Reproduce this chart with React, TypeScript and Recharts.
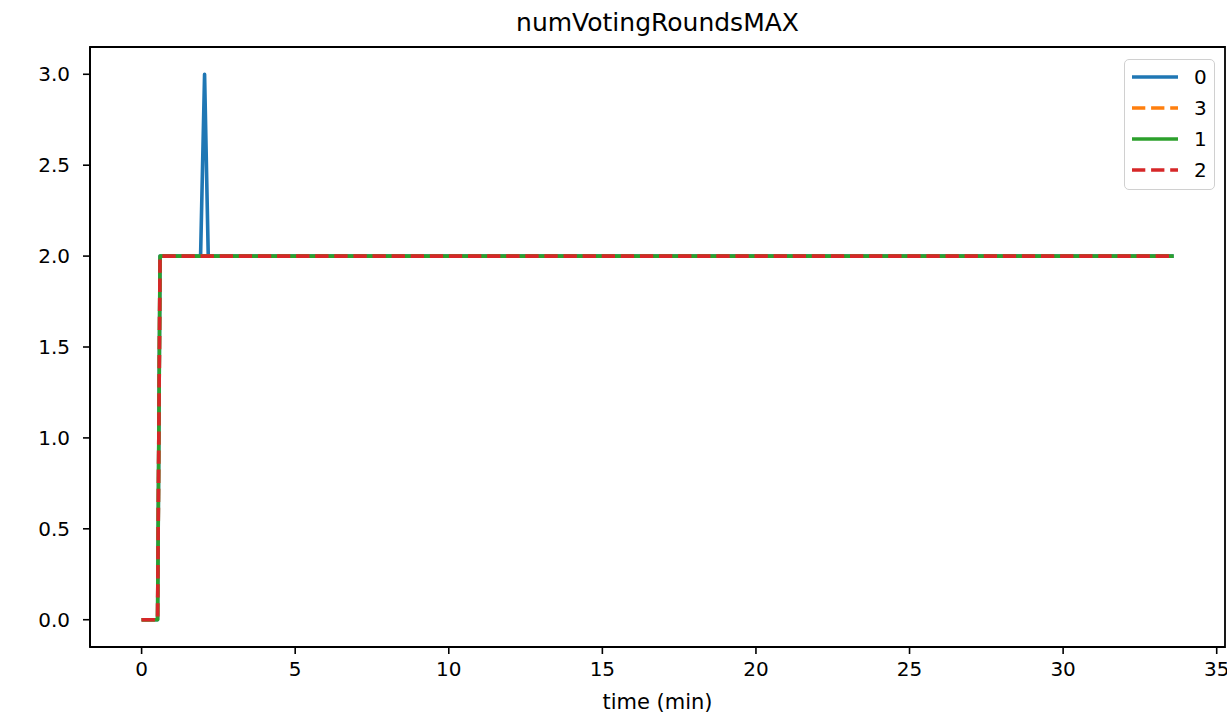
import { Legend, Line, LineChart, ReferenceArea, XAxis, YAxis } from "recharts";

// time (min) at which each sample was taken
const times: number[] = [0, 0.52, 0.6, 1.92, 2.05, 2.17, 33.6];
const rounds0: number[] = [0, 0, 2, 2, 3, 2, 2];
const rounds3: number[] = [0, 0, 2, 2, 2, 2, 2];
const rounds1: number[] = [0, 0, 2, 2, 2, 2, 2];
const rounds2: number[] = [0, 0, 2, 2, 2, 2, 2];

const seriesNames: string[] = ["0", "3", "1", "2"];
const xTicks: number[] = [0, 5, 10, 15, 20, 25, 30, 35];
const yTicks: number[] = [0, 0.5, 1, 1.5, 2, 2.5, 3];

const colors: string[] = ["#1f77b4", "#ff7f0e", "#2ca02c", "#d62728"];
const dashed: boolean[] = [false, true, false, true];

const rows = times.map((t, i) => ({
  t,
  s0: rounds0[i],
  s3: rounds3[i],
  s1: rounds1[i],
  s2: rounds2[i],
}));

const keys = ["s0", "s3", "s1", "s2"];
const xDomain: [number, number] = [-1.68, 35.27];
const yDomain: [number, number] = [-0.15, 3.15];
const font = "'DejaVu Sans', sans-serif";
const dash = "13.3 5.8";

const LegendBox = () => (
  <div
    style={{
      border: "1.5px solid #d0d0d0",
      borderRadius: 5,
      background: "rgba(255,255,255,0.8)",
      width: 91,
      height: 131,
      boxSizing: "border-box",
      paddingTop: 1,
    }}
  >
    {seriesNames.map((name, i) => (
      <div key={name} style={{ height: 31, display: "flex", alignItems: "center" }}>
        <svg width={62} height={10} style={{ display: "block" }}>
          <line
            x1={7}
            x2={53}
            y1={5}
            y2={5}
            stroke={colors[i]}
            strokeWidth={3.6}
            strokeDasharray={dashed[i] ? dash : undefined}
          />
        </svg>
        <span style={{ fontFamily: font, fontSize: 20, color: "#000", marginLeft: 7 }}>{name}</span>
      </div>
    ))}
  </div>
);

export default function App() {
  return (
    <div style={{ position: "absolute", left: 0, top: 0, width: 1227, height: 716, background: "#fff" }}>
      <div
        style={{
          position: "absolute",
          left: 90,
          width: 1135,
          top: 8,
          textAlign: "center",
          fontFamily: font,
          fontSize: 25,
          color: "#000",
        }}
      >
        numVotingRoundsMAX
      </div>
      <LineChart width={1227} height={716} data={rows} margin={{ top: 47, right: 2, bottom: 0, left: 0 }}>
        <XAxis
          dataKey="t"
          type="number"
          domain={xDomain}
          ticks={xTicks}
          interval={0}
          allowDataOverflow
          height={69}
          tickSize={7}
          tickMargin={8}
          axisLine={{ stroke: "#000", strokeWidth: 1.8 }}
          tickLine={{ stroke: "#000", strokeWidth: 1.6 }}
          tick={{ fill: "#000", fontSize: 20, fontFamily: font }}
        />
        <YAxis
          type="number"
          domain={yDomain}
          ticks={yTicks}
          interval={0}
          allowDataOverflow
          width={90}
          tickSize={7}
          tickMargin={13}
          tickFormatter={(v: number) => v.toFixed(1)}
          axisLine={{ stroke: "#000", strokeWidth: 1.8 }}
          tickLine={{ stroke: "#000", strokeWidth: 1.6 }}
          tick={{ fill: "#000", fontSize: 20, fontFamily: font }}
        />
        <ReferenceArea
          x1={xDomain[0]}
          x2={xDomain[1]}
          y1={yDomain[0]}
          y2={yDomain[1]}
          fill="none"
          stroke="#000"
          strokeWidth={1.8}
          ifOverflow="visible"
        />
        <Legend
          layout="vertical"
          align="center"
          verticalAlign="middle"
          wrapperStyle={{ left: 1124, top: 59, width: 91, height: 131 }}
          content={() => <LegendBox />}
        />
        {keys.map((k, i) => (
          <Line
            key={k}
            dataKey={k}
            name={seriesNames[i]}
            type="linear"
            stroke={colors[i]}
            strokeWidth={3.6}
            strokeDasharray={dashed[i] ? dash : undefined}
            strokeLinejoin="round"
            dot={false}
            activeDot={false}
            isAnimationActive={false}
          />
        ))}
      </LineChart>
      <div
        style={{
          position: "absolute",
          left: 90,
          width: 1135,
          top: 690,
          textAlign: "center",
          fontFamily: font,
          fontSize: 21,
          color: "#000",
        }}
      >
        time (min)
      </div>
    </div>
  );
}
